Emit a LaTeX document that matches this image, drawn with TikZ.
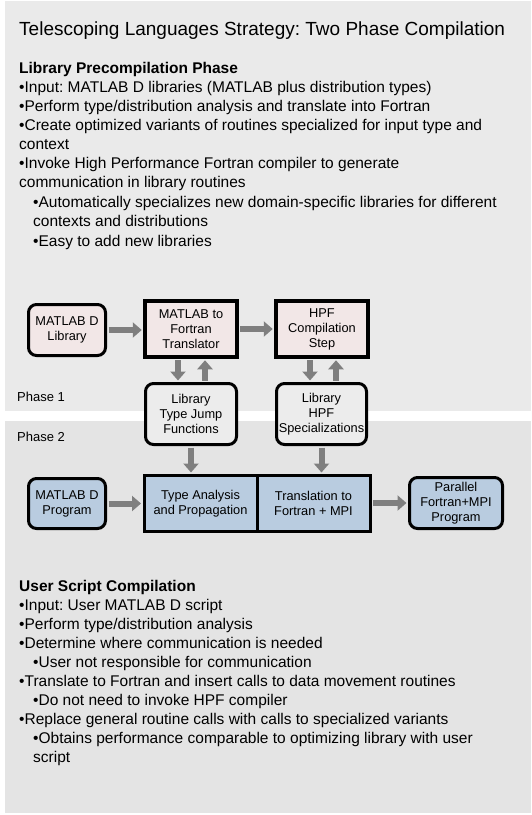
\documentclass[tikz,border=0pt]{standalone}
\usepackage{fontspec}
\setmainfont{Liberation Sans}
\frenchspacing
\usetikzlibrary{arrows.meta}
\definecolor{panelA}{HTML}{EAEAEA}
\definecolor{panelB}{HTML}{E4E4E4}
\definecolor{pinkfill}{HTML}{F2E7E7}
\definecolor{bluefill}{HTML}{B9CCE0}
\definecolor{grayfill}{HTML}{ECECEC}
\definecolor{arrowgray}{HTML}{7F7F7F}
\begin{document}
\begin{tikzpicture}[x=1pt,y=-1pt,
  txt/.style={anchor=base west, inner sep=0pt, font=\fontsize{15.5}{19}\selectfont},
  hd/.style={txt, font=\fontsize{15.5}{19}\selectfont\bfseries},
  ttl/.style={anchor=base west, inner sep=0pt, font=\fontsize{19}{23}\selectfont},
  phase/.style={anchor=base west, inner sep=0pt, font=\fontsize{13}{15}\selectfont},
  rbox/.style={draw=black, line width=3pt, rounded corners=8pt, align=center, inner sep=0pt,
    font=\fontsize{12.8}{15}\selectfont},
  sbox/.style={draw=black, line width=3.5pt, align=center, inner sep=0pt,
    font=\fontsize{12.8}{15}\selectfont},
  flow/.style={draw=arrowgray, line width=6pt, shorten >=1.5pt, shorten <=1.5pt,
    -{Triangle[length=9pt,width=15pt]}}
]
\useasboundingbox (0,0) rectangle (531,815);
\fill[white] (0,0) rectangle (531,815);
\fill[panelA] (5,1) rectangle (531,411);
\fill[panelB] (5,421) rectangle (531,813);

% texts, top
\node[ttl] (title) at (19,35) {Telescoping Languages Strategy: Two Phase Compilation};
\node[hd] (h1) at (19,73) {Library Precompilation Phase};
\node[txt] (a1) at (19,92) {•Input: MATLAB D libraries (MATLAB plus distribution types)};
\node[txt] (a2) at (19,111) {•Perform type/distribution analysis and translate into Fortran};
\node[txt] (a3) at (19,130) {•Create optimized variants of routines specialized for input type and};
\node[txt] (a4) at (19,149) {context};
\node[txt] (a5) at (19,168) {•Invoke High Performance Fortran compiler to generate};
\node[txt] (a6) at (19,187) {communication in library routines};
\node[txt] (a7) at (33,207) {•Automatically specializes new domain-specific libraries for different};
\node[txt] (a8) at (33,226) {contexts and distributions};
\node[txt] (a9) at (33,246) {•Easy to add new libraries};

% texts, bottom
\node[hd] (h2) at (19,591) {User Script Compilation};
\node[txt] (b1) at (19,610) {•Input: User MATLAB D script};
\node[txt] (b2) at (19,629) {•Perform type/distribution analysis};
\node[txt] (b3) at (19,648) {•Determine where communication is needed};
\node[txt] (b4) at (33,667) {•User not responsible for communication};
\node[txt] (b5) at (19,686) {•Translate to Fortran and insert calls to data movement routines};
\node[txt] (b6) at (33,705) {•Do not need to invoke HPF compiler};
\node[txt] (b7) at (19,724) {•Replace general routine calls with calls to specialized variants};
\node[txt] (b8) at (33,743) {•Obtains performance comparable to optimizing library with user};
\node[txt] (b9) at (33,762) {script};

\node[phase] (p1) at (17,401) {Phase 1};
\node[phase] (p2) at (17,441) {Phase 2};

% boxes
\node[rbox, fill=pinkfill, minimum width=77pt, minimum height=51pt] (mlib) at (67,330) {MATLAB D\\Library};
\node[sbox, fill=pinkfill, minimum width=92pt, minimum height=56pt] (trans) at (191,329) {MATLAB to\\Fortran\\Translator};
\node[sbox, fill=pinkfill, minimum width=92pt, minimum height=56pt] (hpf) at (322,329) {HPF\\Compilation\\Step};
\node[rbox, fill=grayfill, minimum width=91pt, minimum height=61pt] (ltjf) at (191,414) {Library\\Type Jump\\Functions};
\node[rbox, fill=grayfill, minimum width=90pt, minimum height=61pt] (hspec) at (321.5,414) {Library\\HPF\\Specializations};
\node[sbox, line width=3pt, fill=bluefill, minimum width=113pt, minimum height=56pt] (tap) at (200.5,503.5) {Type Analysis\\and Propagation};
\node[sbox, line width=3pt, fill=bluefill, minimum width=113pt, minimum height=56pt] (tfm) at (313.5,503.5) {Translation to\\Fortran + MPI};
\node[rbox, fill=bluefill, minimum width=77pt, minimum height=50pt] (mprog) at (67,503.5) {MATLAB D\\Program};
\node[rbox, fill=bluefill, minimum width=93pt, minimum height=51pt] (par) at (456,503) {Parallel\\Fortran+MPI\\Program};

% arrows
\draw[flow] (mlib.east) -- (trans.west |- mlib.east);
\draw[flow] (trans.east |- hpf.west) -- (hpf.west);
\draw[flow] ([xshift=-13pt]trans.south) -- ([xshift=-13pt]trans.south |- ltjf.north);
\draw[flow] ([xshift=14pt]trans.south |- ltjf.north) -- ([xshift=14pt]trans.south);
\draw[flow] ([xshift=-12pt]hpf.south) -- ([xshift=-12pt]hpf.south |- hspec.north);
\draw[flow] ([xshift=14pt]hpf.south |- hspec.north) -- ([xshift=14pt]hpf.south);
\draw[flow] (ltjf.south) -- (ltjf.south |- tap.north);
\draw[flow] (hspec.south) -- (hspec.south |- tfm.north);
\draw[flow] (mprog.east) -- (tap.west |- mprog.east);
\draw[flow] (tfm.east |- par.west) -- (par.west);
\end{tikzpicture}
\end{document}
